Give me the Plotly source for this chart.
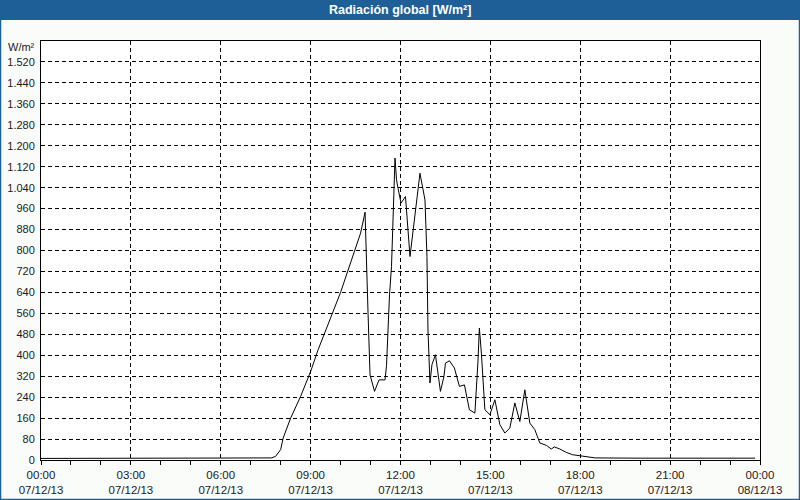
import plotly.graph_objects as go

# ---- data ----
times = [
    "00:00", "02:00", "04:00", "06:00", "07:00", "07:35", "07:42", "07:50",
    "08:00", "08:05", "08:20", "08:40", "09:00", "09:15", "10:00", "10:40",
    "10:49", "10:55", "10:59", "11:08", "11:17", "11:29", "11:32", "11:38",
    "11:42", "11:49", "11:52", "11:55", "12:01", "12:10", "12:19", "12:39",
    "12:49", "12:53", "12:55", "12:59", "13:03", "13:10", "13:20", "13:27",
    "13:30", "13:38", "13:48", "13:58", "14:08", "14:18", "14:29", "14:35",
    "14:38", "14:42", "14:49", "14:59", "15:09", "15:19", "15:29", "15:39",
    "15:49", "15:59", "16:09", "16:19", "16:29", "16:39", "16:52", "17:02",
    "17:08", "17:18", "17:32", "17:45", "17:59", "18:15", "18:30", "20:00",
    "22:00", "23:50",
]
values = [
    6, 6, 6, 6, 6, 6, 8, 14,
    40, 84, 160, 243, 338, 421, 640, 866,
    946, 560, 325, 262, 306, 306, 360, 631,
    739, 1153, 1070, 1038, 981, 1006, 777, 1095,
    993, 777, 500, 294, 364, 402, 262, 319,
    370, 379, 351, 281, 287, 192, 179, 370,
    504, 408, 192, 173, 230, 135, 103, 122,
    218, 147, 268, 141, 116, 65, 56, 42,
    50, 43, 29, 20, 16, 10, 8, 7,
    7, 7,
]
x_tick_hours = ["2013-12-07 00:00", "2013-12-07 03:00", "2013-12-07 06:00",
                "2013-12-07 09:00", "2013-12-07 12:00", "2013-12-07 15:00",
                "2013-12-07 18:00", "2013-12-07 21:00", "2013-12-08 00:00"]
x_tick_text = ["00:00<br>07/12/13", "03:00<br>07/12/13", "06:00<br>07/12/13",
               "09:00<br>07/12/13", "12:00<br>07/12/13", "15:00<br>07/12/13",
               "18:00<br>07/12/13", "21:00<br>07/12/13", "00:00<br>08/12/13"]
y_tick_vals = list(range(0, 1521, 80))
y_tick_text = [f"{v:,}".replace(",", ".") for v in y_tick_vals]
title_text = "Radiación global [W/m²]"
unit_text = "W/m²"

x = ["2013-12-07 " + t for t in times]

FONT = "Liberation Sans, Arial, sans-serif"
TXT = "#1a1a1a"
BLUE = "#1d5f96"
DASH = "4px,3px"

fig = go.Figure()
fig.add_trace(go.Scatter(x=x, y=values, mode="lines",
                         line=dict(color="black", width=1), showlegend=False,
                         hoverinfo="skip"))

L, R, T, B = 41, 40, 41, 40
W, H = 800, 500
pw, ph = W - L - R, H - T - B


def px(xp):
    return (xp - L) / pw


def py(yp):
    return (H - B - yp) / ph


fig.update_layout(
    width=W, height=H,
    margin=dict(l=L, r=R, t=T, b=B, autoexpand=False),
    paper_bgcolor="#fafcfa",
    plot_bgcolor="#ffffff",
    font=dict(family=FONT, size=11, color=TXT),
    xaxis=dict(
        type="date", automargin=False,
        range=["2013-12-07 00:00", "2013-12-08 00:00"],
        tickvals=x_tick_hours, ticktext=x_tick_text,
        showgrid=True, gridcolor="black", griddash=DASH, gridwidth=1,
        showline=True, linecolor="black", linewidth=1, mirror=True,
        ticks="outside", ticklen=4, tickcolor="black",
        ticklabelstandoff=0,
        minor=dict(dtick=3600000, tick0="2013-12-07 00:00", ticks="outside",
                   ticklen=4, tickcolor="black", showgrid=False),
        zeroline=False, fixedrange=True,
        tickfont=dict(family=FONT, size=11.5, color=TXT),
    ),
    yaxis=dict(
        range=[0, 1600], automargin=False,
        tickvals=y_tick_vals, ticktext=y_tick_text,
        showgrid=True, gridcolor="black", griddash=DASH, gridwidth=1,
        showline=True, linecolor="black", linewidth=1, mirror=True,
        ticks="outside", ticklen=3, tickcolor="rgba(0,0,0,0)",
        zeroline=False, fixedrange=True,
        tickfont=dict(family=FONT, size=11, color=TXT),
    ),
    shapes=[
        dict(type="rect", xref="paper", yref="paper",
             x0=px(-2), x1=px(W + 2), y0=py(20), y1=py(-2),
             fillcolor=BLUE, line=dict(width=0), layer="above"),
        dict(type="rect", xref="paper", yref="paper",
             x0=px(0.5), x1=px(W - 0.5), y0=py(H - 0.5), y1=py(10),
             fillcolor="rgba(0,0,0,0)", line=dict(color=BLUE, width=1.5),
             layer="above"),
    ],
    annotations=[
        dict(text="<b>" + title_text + "</b>", xref="paper", yref="paper",
             x=px(400), y=py(10), xanchor="center", yanchor="middle",
             showarrow=False, font=dict(family=FONT, size=12.5, color="white")),
        dict(text=unit_text, xref="paper", yref="paper",
             x=px(37), y=py(46.5), xanchor="right", yanchor="middle",
             showarrow=False, font=dict(family=FONT, size=11, color=TXT)),
    ],
)

fig.write_html("out.html")
